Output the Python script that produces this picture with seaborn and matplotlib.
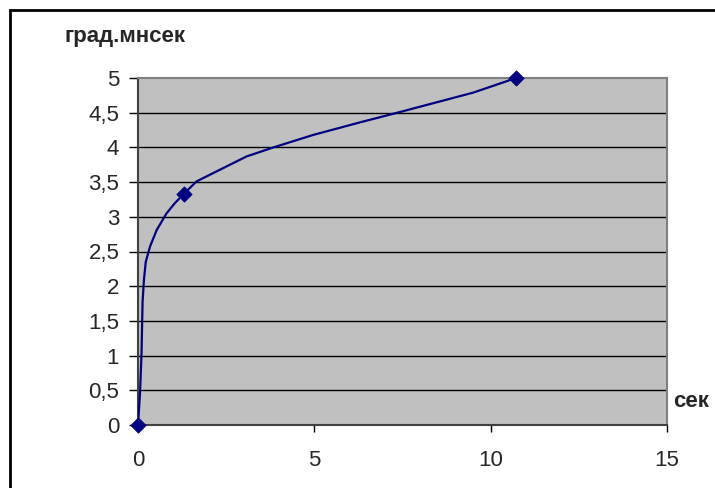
import matplotlib
matplotlib.use("Agg")
import matplotlib.pyplot as plt
from matplotlib.patches import Rectangle
import seaborn as sns
import pandas as pd

# Smooth response curve (seconds vs. angular value)
curve_t = [0.0, 0.057, 0.10, 0.13, 0.17, 0.22, 0.34, 0.53, 0.81, 1.05, 1.30,
           1.66, 3.08, 3.84, 4.97, 6.29, 7.43, 9.51, 10.72]
curve_v = [0.0, 0.46, 1.03, 1.78, 2.10, 2.35, 2.57, 2.81, 3.05, 3.20, 3.33,
           3.51, 3.87, 4.00, 4.18, 4.36, 4.51, 4.79, 5.0]

# Measured points
pts_t = [0.0, 1.30, 10.72]
pts_v = [0.0, 3.33, 5.0]

x_ticks = [0, 5, 10, 15]
y_ticks = [0, 0.5, 1, 1.5, 2, 2.5, 3, 3.5, 4, 4.5, 5]
y_tick_labels = ["0", "0,5", "1", "1,5", "2", "2,5", "3", "3,5", "4", "4,5", "5"]

sns.set_style("white")
plt.rcParams["font.family"] = ["Liberation Sans", "DejaVu Sans"]

fig = plt.figure(figsize=(7.15, 4.88), dpi=100)
W, H = 715, 488
ax = fig.add_axes([138 / W, 1 - 425 / H, (667 - 138) / W, (425 - 78) / H])
ax.set_facecolor("#C0C0C0")

df_curve = pd.DataFrame({"t": curve_t, "v": curve_v})
df_pts = pd.DataFrame({"t": pts_t, "v": pts_v})

sns.lineplot(data=df_curve, x="t", y="v", sort=False, color="#000080",
             linewidth=1.6, ax=ax, zorder=3)
sns.scatterplot(data=df_pts, x="t", y="v", marker="D", s=60, color="#000080",
                edgecolor="#000080", ax=ax, zorder=4, clip_on=False)

ax.set_xlim(0, 15)
ax.set_ylim(0, 5)
ax.set_xticks(x_ticks)
ax.set_yticks(y_ticks)
ax.set_yticklabels(y_tick_labels)
ax.set_xlabel("")
ax.set_ylabel("")

for y in y_ticks[1:-1]:
    ax.axhline(y, color="black", linewidth=1, zorder=1)

for side in ["top", "right"]:
    ax.spines[side].set_color("#808080")
    ax.spines[side].set_linewidth(1.5)
for side in ["left", "bottom"]:
    ax.spines[side].set_color("#404040")
    ax.spines[side].set_linewidth(1.5)

ax.tick_params(axis="y", direction="out", length=6.5, width=1, color="black",
               labelsize=16, pad=7, left=True)
ax.tick_params(axis="x", direction="out", length=5, width=1, color="black",
               labelsize=16, pad=13, bottom=True)

fig.text(65 / W, 1 - 42 / H, "град.мнсек", fontsize=16, fontweight="bold",
         va="baseline", ha="left")
fig.text(673 / W, 1 - 407 / H, "сек", fontsize=16, fontweight="bold",
         va="baseline", ha="left")

# chart frame (extends past the right and bottom edges)
fig.patches.append(Rectangle((10 / W, -0.05), 1.0, 1 - 10 / H + 0.05,
                             transform=fig.transFigure, fill=False,
                             edgecolor="black", linewidth=2))

fig.savefig("out.png", dpi=100)
